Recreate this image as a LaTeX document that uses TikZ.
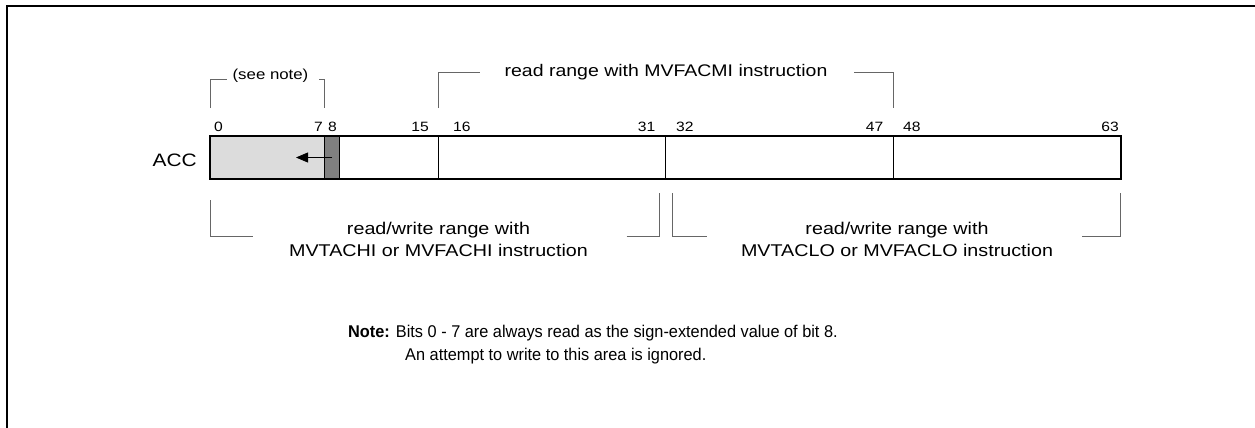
\documentclass[tikz,border=0pt]{standalone}
\usepackage{fontspec}
\setmainfont{Liberation Sans}[FakeStretch=1.16]
\newfontfamily\notefont{Liberation Sans}[FakeStretch=0.96]
\usetikzlibrary{arrows.meta}
\definecolor{lightfill}{HTML}{DCDCDC}
\definecolor{darkfill}{HTML}{808080}
\definecolor{brkcol}{HTML}{666666}
\begin{document}
\begin{tikzpicture}[x=1pt,y=-1pt,
  brk/.style={draw=brkcol,line width=0.9pt},
  divider/.style={draw=black,line width=0.8pt},
  num/.style={font=\fontsize{13.5}{15}\selectfont,inner sep=0pt},
  lbl/.style={font=\fontsize{17}{22.5}\selectfont,inner sep=0pt,align=center},
  notetxt/.style={font=\notefont\fontsize{17}{23}\selectfont,inner sep=0pt,anchor=base west}]
\useasboundingbox (0,0) rectangle (1255,428);
% frame
\draw[line width=2.3pt] (7,430) -- (7,6) -- (1257,6);
% register
\fill[lightfill] (210,136) rectangle (324.5,179);
\fill[darkfill] (324.5,136) rectangle (339,179);
\coordinate (b7) at (324.5,136);
\coordinate (b8) at (339,136);
\coordinate (b16) at (438,136);
\coordinate (b32) at (665.7,136);
\coordinate (b48) at (893,136);
\foreach \c in {b7,b8,b16,b32,b48}
  \draw[divider] (\c) -- ++(0,43);
\draw[line width=2pt] (210,136) rectangle (1121,179);
% arrow
\coordinate (arrS) at (332,157.5);
\coordinate (arrE) at (296,157.5);
\draw[line width=0.8pt,-{Triangle[length=12pt,width=10pt]}] (arrS) -- (arrE);
% ACC label
\node[font=\fontsize{18}{20}\selectfont,inner sep=0pt,anchor=base east] (acc) at (197,166.5) {ACC};
% bit numbers
\node[num,anchor=base west] (n0) at (214,131) {0};
\node[num,anchor=base east] (n7) at (323,131) {7};
\node[num,anchor=base west] (n8) at (328,131) {8};
\node[num,anchor=base east] (n15) at (429,131) {15};
\node[num,anchor=base west] (n16) at (453,131) {16};
\node[num,anchor=base east] (n31) at (655.5,131) {31};
\node[num,anchor=base west] (n32) at (676,131) {32};
\node[num,anchor=base east] (n47) at (883.5,131) {47};
\node[num,anchor=base west] (n48) at (903,131) {48};
\node[num,anchor=base east] (n63) at (1119,131) {63};
% (see note) bracket
\node[font=\fontsize{14.5}{16}\selectfont,inner sep=0pt,anchor=base] (see) at (270.5,80) {(see note)};
\draw[brk] (210,108) -- (210,79) -- (226.7,79);
\draw[brk] (319,79) -- (324.5,79) -- (324.5,108);
% MVFACMI bracket
\node[font=\fontsize{16.8}{18}\selectfont,inner sep=0pt,anchor=base] (mi) at (666,76.7) {read range with MVFACMI instruction};
\draw[brk] (438,108) -- (438,72.7) -- (480,72.7);
\draw[brk] (854,72.7) -- (893,72.7) -- (893,108);
% HI bracket
\node[lbl,anchor=base] (hi1) at (438.5,234.3) {read/write range with};
\node[lbl,anchor=base] (hi2) at (438.5,256.7) {MVTACHI or MVFACHI instruction};
\draw[brk] (210.5,200) -- (210.5,236) -- (252.7,236);
\draw[brk] (626.7,236) -- (659,236) -- (659,193);
% LO bracket
\node[lbl,anchor=base] (lo1) at (897,234.3) {read/write range with};
\node[lbl,anchor=base] (lo2) at (897,256.7) {MVTACLO or MVFACLO instruction};
\draw[brk] (672.3,193) -- (672.3,236) -- (707,236);
\draw[brk] (1082,236) -- (1120.5,236) -- (1120.5,193);
% note
\node[notetxt] (note1) at (348,337.3) {\textbf{Note:} Bits 0 - 7 are always read as the sign-extended value of bit 8.};
\node[notetxt] (note2) at (405,360) {An attempt to write to this area is ignored.};
\end{tikzpicture}
\end{document}
